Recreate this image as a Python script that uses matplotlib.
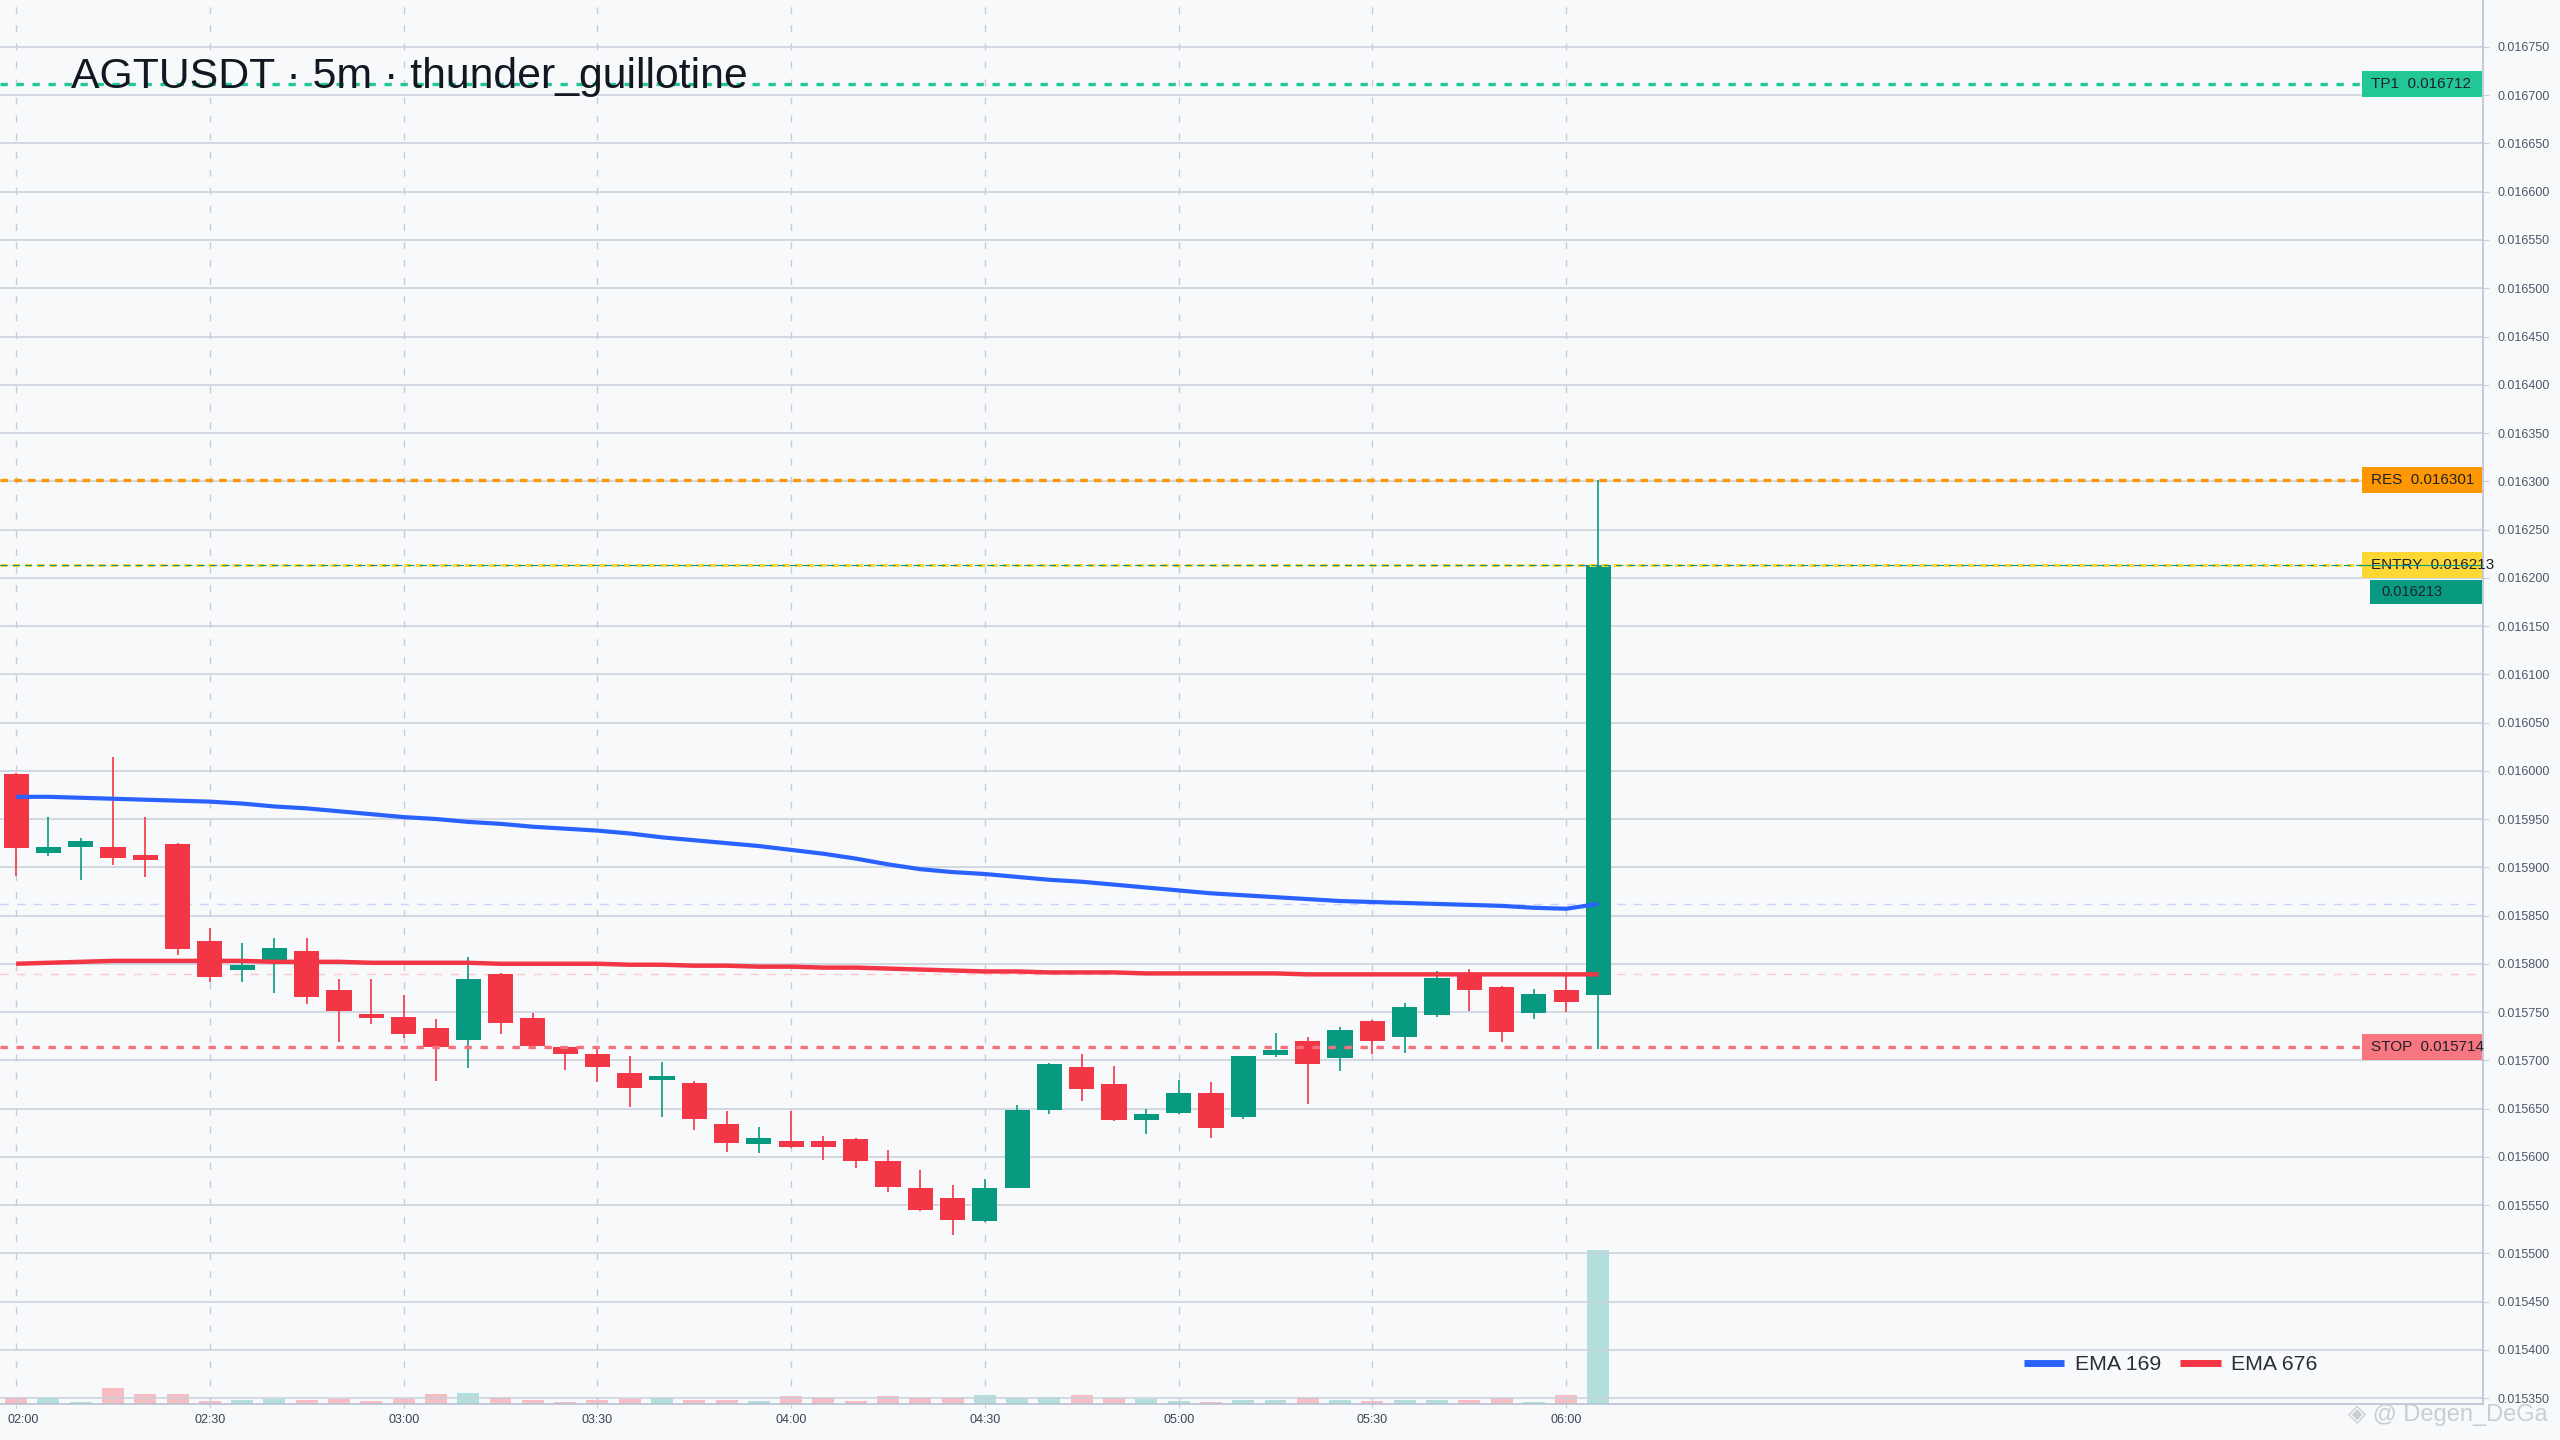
import matplotlib
matplotlib.use("Agg")
import matplotlib.pyplot as plt
import matplotlib.transforms as mtransforms
from matplotlib.patches import Rectangle
import numpy as np

plt.rcParams['font.family'] = ['Liberation Sans', 'DejaVu Sans']

# 5m candles, 02:00 .. 06:05
opens = [0.015997, 0.015915, 0.015921, 0.015921, 0.015913, 0.015924, 0.015824, 0.015794, 0.015804, 0.015813,
         0.015773, 0.015748, 0.015745, 0.015733, 0.015721, 0.015789, 0.015744, 0.015714, 0.015707, 0.015687,
         0.015680, 0.015676, 0.015634, 0.015613, 0.015616, 0.015616, 0.015618, 0.015596, 0.015568, 0.015557,
         0.015533, 0.015568, 0.015648, 0.015693, 0.015675, 0.015638, 0.015645, 0.015666, 0.015641, 0.015705,
         0.015720, 0.015702, 0.015741, 0.015724, 0.015747, 0.015790, 0.015776, 0.015749, 0.015773, 0.015768]
highs = [0.015998, 0.015952, 0.015930, 0.016014, 0.015952, 0.015925, 0.015837, 0.015821, 0.015827, 0.015827,
         0.015784, 0.015784, 0.015768, 0.015743, 0.015807, 0.015790, 0.015749, 0.015715, 0.015715, 0.015704,
         0.015698, 0.015679, 0.015647, 0.015631, 0.015647, 0.015622, 0.015619, 0.015607, 0.015586, 0.015571,
         0.015577, 0.015654, 0.015697, 0.015706, 0.015694, 0.015650, 0.015680, 0.015677, 0.015704, 0.015728,
         0.015724, 0.015734, 0.015742, 0.015759, 0.015792, 0.015795, 0.015777, 0.015774, 0.015787, 0.016301]
lows = [0.015891, 0.015912, 0.015887, 0.015902, 0.015890, 0.015809, 0.015781, 0.015781, 0.015770, 0.015758,
        0.015719, 0.015738, 0.015723, 0.015678, 0.015692, 0.015727, 0.015714, 0.015690, 0.015677, 0.015652,
        0.015641, 0.015628, 0.015605, 0.015604, 0.015609, 0.015597, 0.015588, 0.015564, 0.015544, 0.015519,
        0.015532, 0.015568, 0.015644, 0.015658, 0.015637, 0.015624, 0.015644, 0.015619, 0.015639, 0.015703,
        0.015655, 0.015689, 0.015706, 0.015708, 0.015745, 0.015751, 0.015719, 0.015743, 0.015750, 0.015712]
closes = [0.015920, 0.015921, 0.015927, 0.015910, 0.015908, 0.015815, 0.015786, 0.015799, 0.015816, 0.015766,
          0.015751, 0.015744, 0.015727, 0.015714, 0.015784, 0.015739, 0.015715, 0.015707, 0.015693, 0.015671,
          0.015684, 0.015639, 0.015614, 0.015619, 0.015610, 0.015610, 0.015596, 0.015569, 0.015545, 0.015534,
          0.015568, 0.015648, 0.015696, 0.015670, 0.015638, 0.015644, 0.015666, 0.015630, 0.015704, 0.015711,
          0.015696, 0.015731, 0.015720, 0.015755, 0.015785, 0.015773, 0.015729, 0.015769, 0.015760, 0.016213]
volumes = [6.7, 5.7, 1.7, 15.7, 9.7, 9.7, 3.0, 3.7, 4.7, 3.7,
           4.7, 3.0, 4.7, 9.7, 10.7, 6.7, 3.7, 1.7, 3.7, 4.7,
           5.7, 3.7, 3.7, 3.3, 7.7, 6.7, 3.0, 7.7, 6.7, 6.7,
           8.7, 5.7, 6.7, 8.7, 5.7, 4.7, 3.3, 1.7, 3.7, 3.7,
           6.7, 3.7, 3.0, 3.7, 3.7, 3.7, 5.7, 1.7, 8.7, 153.7]
ema169 = [0.015973, 0.015973, 0.015972, 0.015971, 0.015970, 0.015969, 0.015968, 0.015966, 0.015963, 0.015961,
          0.015958, 0.015955, 0.015952, 0.015950, 0.015947, 0.015945, 0.015942, 0.015940, 0.015938, 0.015935,
          0.015931, 0.015928, 0.015925, 0.015922, 0.015918, 0.015914, 0.015909, 0.015903, 0.015898, 0.015895,
          0.015893, 0.015890, 0.015887, 0.015885, 0.015882, 0.015879, 0.015876, 0.015873, 0.015871, 0.015869,
          0.015867, 0.015865, 0.015864, 0.015863, 0.015862, 0.015861, 0.015860, 0.015858, 0.015857, 0.015862]
ema676 = [0.015800, 0.015801, 0.015802, 0.015803, 0.015803, 0.015803, 0.015803, 0.015803, 0.015802, 0.015802,
          0.015802, 0.015801, 0.015801, 0.015801, 0.015801, 0.015800, 0.015800, 0.015800, 0.015800, 0.015799,
          0.015799, 0.015798, 0.015798, 0.015797, 0.015797, 0.015796, 0.015796, 0.015795, 0.015794, 0.015793,
          0.015792, 0.015792, 0.015791, 0.015791, 0.015791, 0.015790, 0.015790, 0.015790, 0.015790, 0.015790,
          0.015789, 0.015789, 0.015789, 0.015789, 0.015789, 0.015789, 0.015789, 0.015789, 0.015789, 0.015789]

time_labels = ["02:00", "02:30", "03:00", "03:30", "04:00", "04:30", "05:00", "05:30", "06:00"]
time_ticks = [0, 6, 12, 18, 24, 30, 36, 42, 48]

levels = [("TP1", 0.016712, "#22c795", "#22c795", (0, (2.2, 2.6)), 2.4),
          ("RES", 0.016301, "#ff9800", "#ff9800", (0, (2.3, 1.8)), 2.4),
          ("ENTRY", 0.016213, "#fdd835", "#fdd835", (0, (2.3, 1.7)), 2.2),
          ("STOP", 0.015714, "#f7767f", "#f7707c", (0, (2.2, 2.6)), 2.4)]

UP = "#089981"
DOWN = "#f23645"
BG = "#f8f9fb"
GRID = "#c9d0dc"

fig = plt.figure(figsize=(25.6, 14.4), dpi=100, facecolor=BG)
ax = fig.add_axes([0, 0.025, 0.97, 0.975])
ymin, ymax = 0.0153438, 0.0167987
ax.set_xlim(-0.5, 76.4)
ax.set_ylim(ymin, ymax)

ax_h_px = 0.975 * 1440
dpp = (ymax - ymin) / ax_h_px  # data per pixel

# volume on a hidden twin axis
vax = ax.twinx()
vax.set_ylim(0, max(volumes) * 1404 / 153.7)
vax.axis("off")
ax.set_zorder(vax.get_zorder() + 1)
ax.patch.set_visible(False)
vax.patch.set_visible(False)

idx = np.arange(len(closes))
up = np.array(closes) >= np.array(opens)
vcol = ["#b2dfdb" if u else "#f8bcc3" for u in up]
vax.bar(idx, volumes, width=0.68, color=vcol, zorder=1)

# grid
ax.set_yticks(np.arange(0.015350, 0.016751, 0.00005))
ax.yaxis.set_major_formatter(matplotlib.ticker.FormatStrFormatter("%.6f"))
ax.grid(axis="y", color=GRID, lw=1.1, zorder=0)
for t in time_ticks:
    ax.axvline(t, color="#c5ccd9", lw=1.0, ls=(0, (5, 8)), zorder=0)
ax.set_xticks(time_ticks)
# first label is nudged right so it is not cut by the figure edge
ax.set_xticklabels([""] + time_labels[1:])
ax.annotate(time_labels[0], xy=(time_ticks[0], 0), xycoords=("data", "axes fraction"),
            xytext=(5, -7), textcoords="offset points", ha="center", va="top",
            fontsize=9, color="#3b4254")

ax.yaxis.tick_right()
ax.tick_params(axis="y", length=4, color=GRID, labelsize=9, labelcolor="#4f5666", pad=6)
ax.tick_params(axis="x", length=3, color=GRID, labelsize=9, labelcolor="#3b4254", pad=4)
for s in ["left", "top"]:
    ax.spines[s].set_visible(False)
for s in ["right", "bottom"]:
    ax.spines[s].set_color("#b8c2d0")
    ax.spines[s].set_linewidth(1.2)

# last-value guides for the EMAs
ax.axhline(ema169[-1], xmax=0.997, color="#c4d4fb", lw=1.0, ls=(0, (6, 6)), zorder=1.5)
ax.axhline(ema676[-1], xmax=0.997, color="#f9c9ce", lw=1.0, ls=(0, (6, 6)), zorder=1.5)

# candles
for i in idx:
    o, h, l, c = opens[i], highs[i], lows[i], closes[i]
    col = UP if up[i] else DOWN
    ax.vlines(i, l, h, color=col, lw=1.2, zorder=3)
    body = max(abs(c - o), 1.2 * dpp)
    ax.bar(i, body, bottom=min(o, c), width=0.78, color=col, zorder=3)

# EMAs
ax.plot(idx, ema169, color="#2962ff", lw=3.0, zorder=4, label="EMA 169", solid_capstyle="butt")
ax.plot(idx, ema676, color="#f23645", lw=3.2, zorder=4, label="EMA 676", solid_capstyle="butt")

# trade levels
blend = mtransforms.blended_transform_factory(ax.transAxes, ax.transData)
box_l = 2362 / 2483.2
box_w = 2482 / 2483.2 - box_l
for name, val, boxc, linec, ls, lw in levels:
    ax.plot([0, box_l], [val, val], transform=blend, color=linec, lw=lw, ls=ls, zorder=5)
    ax.add_patch(Rectangle((box_l, val - 13 * dpp), box_w, 26 * dpp, transform=blend,
                           facecolor=boxc, edgecolor="none", zorder=6, clip_on=False))
    ax.text(box_l + 9 / 2483.2, val, f"{name}  {val:.6f}", transform=blend, va="center", ha="left",
            fontsize=11, color="#1e222d", zorder=7, clip_on=False)

# current price line and tag
last = closes[-1]
ax.plot([0, box_l], [last, last], transform=blend, color=UP, lw=0.8, ls=(0, (6.4, 4.7)), zorder=5.5)
ax.plot([box_l, 1], [last, last], transform=blend, color=UP, lw=0.8, zorder=8)
tag_top = last - 14.3 * dpp
ax.add_patch(Rectangle((2370 / 2483.2, tag_top - 24 * dpp), 112 / 2483.2, 24 * dpp, transform=blend,
                       facecolor=UP, edgecolor="none", zorder=6, clip_on=False))
ax.text(2381 / 2483.2, tag_top - 12 * dpp, f"{last:.6f}", transform=blend, va="center", ha="left",
        fontsize=10.5, color="#1e222d", zorder=7, clip_on=False)

leg = ax.legend(loc="center right", bbox_to_anchor=(0.941, 0.028), ncol=2, frameon=False,
                fontsize=15.3, handlelength=1.9, handletextpad=0.5, columnspacing=0.9,
                labelcolor="#2a2e39")
for ln in leg.get_lines():
    ln.set_linewidth(5)

fig.text(71 / 2560, 1 - 88 / 1440, "AGTUSDT · 5m · thunder_guillotine", fontsize=30.8,
         color="#131722", va="baseline", ha="left")
fig.text(2548 / 2560, 1 - 1415 / 1440, "◈ @ Degen_DeGa", fontsize=17, color="#c9cdd4",
         va="center", ha="right", family=["Liberation Sans", "DejaVu Sans"])

fig.savefig("out.png", dpi=100, facecolor=BG)
